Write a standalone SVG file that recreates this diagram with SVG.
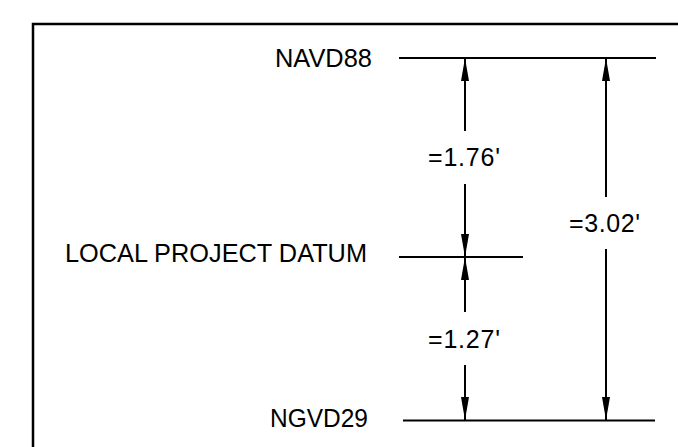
<svg xmlns="http://www.w3.org/2000/svg" width="678" height="447" viewBox="0 0 678 447">
<style>
.lbl{font-family:"Liberation Sans",Arial,sans-serif;font-size:25px;fill:#000}
.datum{stroke:#000;stroke-width:2;fill:none}
.dim{stroke:#000;stroke-width:2;fill:none;marker-end:url(#arr)}
</style>
<defs>
<marker id="arr" markerUnits="userSpaceOnUse" markerWidth="24" markerHeight="10" refX="23" refY="4.5" orient="auto">
<path d="M0,0.5 L23,4.5 L0,8.5 z" fill="#000"/>
</marker>
</defs>
<rect width="678" height="447" fill="#fff"/>
<rect x="33" y="24" width="700" height="500" fill="none" stroke="#000" stroke-width="2.5"/>
<g id="navd88">
<text class="lbl" x="275" y="67" textLength="97" lengthAdjust="spacingAndGlyphs">NAVD88</text>
<line class="datum" x1="399" y1="58" x2="656" y2="58"/>
</g>
<g id="local-datum">
<text class="lbl" x="65" y="262" textLength="302" lengthAdjust="spacingAndGlyphs">LOCAL PROJECT DATUM</text>
<line class="datum" x1="399" y1="257" x2="523" y2="257"/>
</g>
<g id="ngvd29">
<text class="lbl" x="270" y="427" textLength="98" lengthAdjust="spacingAndGlyphs">NGVD29</text>
<line class="datum" x1="403" y1="420.5" x2="655" y2="420.5"/>
</g>
<g id="connectors">
<line class="dim" x1="465" y1="131" x2="465" y2="58"/>
<line class="dim" x1="465" y1="184" x2="465" y2="257"/>
<line class="dim" x1="465" y1="312" x2="465" y2="257"/>
<line class="dim" x1="465" y1="365" x2="465" y2="420"/>
<line class="dim" x1="606" y1="197" x2="606" y2="58"/>
<line class="dim" x1="606" y1="249" x2="606" y2="420"/>
</g>
<g id="dim-labels">
<text class="lbl" x="428" y="166" textLength="72" lengthAdjust="spacing">=1.76'</text>
<text class="lbl" x="569" y="232" textLength="71" lengthAdjust="spacing">=3.02'</text>
<text class="lbl" x="428" y="348" textLength="72" lengthAdjust="spacing">=1.27'</text>
</g>
</svg>
